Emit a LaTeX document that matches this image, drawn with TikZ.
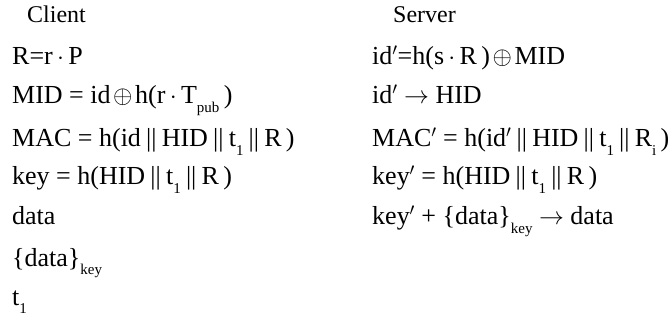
\documentclass[tikz,border=0pt]{standalone}
\usepackage{fontspec}
\setmainfont{Liberation Serif}
\newcommand{\bars}{\hspace{0.2em}||\hspace{0.2em}}
\newcommand{\xr}{\hspace{0.1em}{\fontsize{30}{30}\selectfont$\oplus$}\hspace{0.1em}}
\newcommand{\md}{\,$\cdot$\,}
\newcommand{\sbs}[1]{\raisebox{-0.32em}{\fontsize{15}{15}\selectfont #1}}
\newcommand{\pr}{$'$}
\begin{document}
\begin{tikzpicture}[x=1pt,y=-1pt,
  title/.style={anchor=base west,inner sep=0pt,font=\fontsize{24}{28}\selectfont},
  line/.style={anchor=base west,inner sep=0pt,font=\fontsize{26}{30}\selectfont}]
\useasboundingbox (0,0) rectangle (671,320);
\node[title] (ct) at (27,23) {Client};
\node[line] (c1) at (12,65) {R=r\md P};
\node[line] (c2) at (12,104) {MID = id\xr h(r\md T\sbs{pub}\,)};
\node[line] (c3) at (12,147) {MAC = h(id\bars HID\bars t\sbs{1}\bars R\,)};
\node[line] (c4) at (12,185) {key = h(HID\bars t\sbs{1}\bars R\,)};
\node[line] (c5) at (12,225) {data};
\node[line] (c6) at (12,266) {\{data\}\sbs{key}};
\node[line] (c7) at (12,305) {t\sbs{1}};
\node[title] (st) at (393,23) {Server};
\node[line] (s1) at (372,65) {id\pr=h(s\md R\,)\xr MID};
\node[line] (s2) at (372,104) {id\pr\ $\rightarrow$ HID};
\node[line] (s3) at (372,147) {MAC\pr\ = h(id\pr\bars HID\bars t\sbs{1}\bars R\sbs{i}\,)};
\node[line] (s4) at (372,185) {key\pr\ = h(HID\bars t\sbs{1}\bars R\,)};
\node[line] (s5) at (372,225) {key\pr\ + \{data\}\sbs{key} $\rightarrow$ data};
\end{tikzpicture}
\end{document}
